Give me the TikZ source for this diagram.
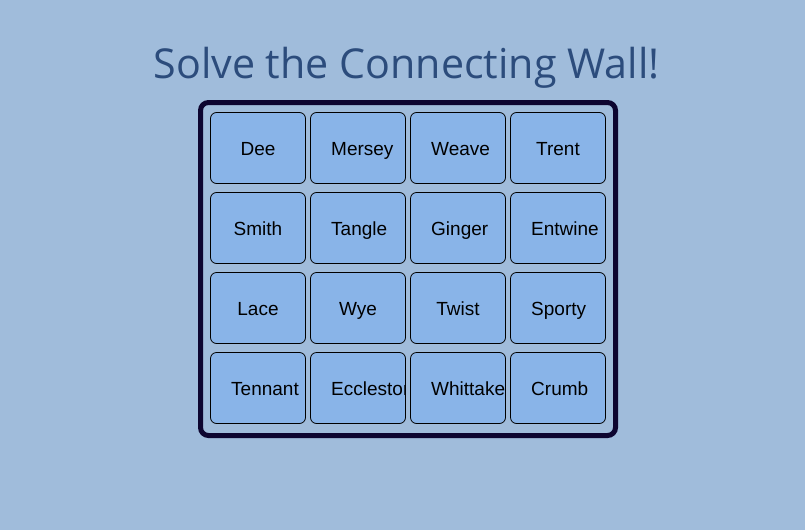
\documentclass[tikz,border=0pt]{standalone}
\usepackage{fontspec}
\setmainfont{Liberation Sans}
\newfontfamily\titlefont{Open Sans}
\definecolor{wallbg}{RGB}{160,188,219}
\definecolor{tilefill}{RGB}{137,180,232}
\definecolor{framenavy}{RGB}{13,5,48}
\definecolor{titleblue}{RGB}{44,76,124}
\begin{document}
\begin{tikzpicture}[x=1pt, y=-1pt,
			tilebox/.style = {draw=black, line width=0.8pt, fill=tilefill, rounded corners=6pt, minimum width=95pt, minimum height=71pt, inner sep=0pt},
			tileword/.style = {font=\fontsize{19}{21}\selectfont, text=black, inner sep=0pt},
			midtile/.pic = {\node[tilebox] (-box) at (48,36) {};
				\clip (1,1) rectangle (95,71);
				\node[tileword, anchor=base] (-word) at (48,43) {#1};},
			lefttile/.pic = {\node[tilebox] (-box) at (48,36) {};
				\clip (1,1) rectangle (95,71);
				\node[tileword, anchor=base west] (-word) at (21,43) {#1};}
					]
			\def\rowstep{80}
			\def\colstep{100}
			\fill[wallbg] (0,0) rectangle (805,530);
			\useasboundingbox (0,0) rectangle (805,530);
			\node[font=\titlefont\fontsize{41.2}{44}\selectfont, text=titleblue, anchor=base] (title) at (406.5,78) {Solve the Connecting Wall!};
			\draw[framenavy, line width=5pt, rounded corners=8pt] (200.5,102.5) rectangle (615.5,435.5);
			\begin{scope}[shift={(210,112)}]
				\pic (dee) at (0,0) {midtile=Dee};
				\pic (mersey) at (\colstep,0) {lefttile=Mersey};
				\pic (weave) at (2*\colstep,0) {lefttile=Weave};
				\pic (trent) at (3*\colstep,0) {midtile=Trent};
			\end{scope}
			\begin{scope}[shift={(210,112+\rowstep)}]
				\pic (smith) at (0,0) {midtile=Smith};
				\pic (tangle) at (\colstep,0) {lefttile=Tangle};
				\pic (ginger) at (2*\colstep,0) {lefttile=Ginger};
				\pic (entwine) at (3*\colstep,0) {lefttile=Entwine};
			\end{scope}
			\begin{scope}[shift={(210,112+2*\rowstep)}]
				\pic (lace) at (0,0) {midtile=Lace};
				\pic (wye) at (\colstep,0) {midtile=Wye};
				\pic (twist) at (2*\colstep,0) {midtile=Twist};
				\pic (sporty) at (3*\colstep,0) {lefttile=Sporty};
			\end{scope}
			\begin{scope}[shift={(210,112+3*\rowstep)}]
				\pic (tennant) at (0,0) {lefttile=Tennant};
				\pic (eccleston) at (\colstep,0) {lefttile=Ecclestone};
				\pic (whittaker) at (2*\colstep,0) {lefttile=Whittaker};
				\pic (crumb) at (3*\colstep,0) {lefttile=Crumb};
			\end{scope}
		\end{tikzpicture}
\end{document}
